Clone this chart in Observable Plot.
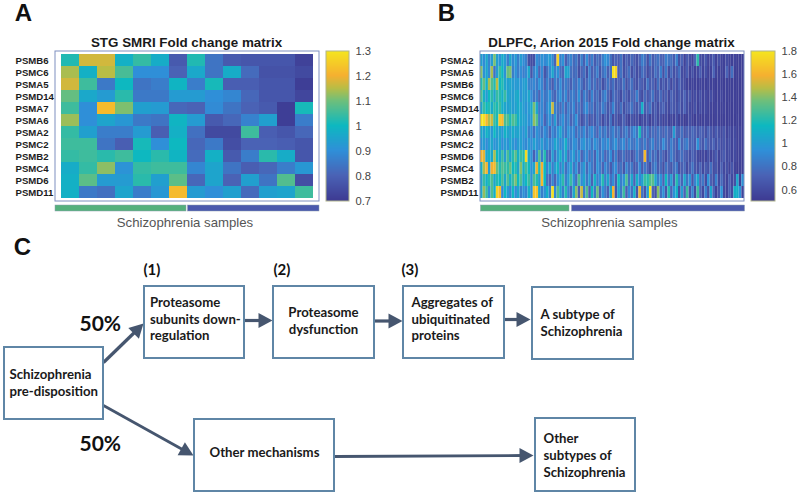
<!DOCTYPE html>
<html>
<head>
<meta charset="utf-8">
<script src="https://cdn.jsdelivr.net/npm/d3@7"></script>
<script src="https://cdn.jsdelivr.net/npm/@observablehq/plot@0.6"></script>
<style>
html,body{margin:0;padding:0;background:#fff;overflow:hidden}
#page{position:relative;width:800px;height:496px;overflow:hidden}
#page svg{position:absolute;background:transparent;max-width:none}
</style>
</head>
<body>
<div id="page"></div>
<script>
// ---------- Panel A ----------
const genesA = ["PSMB6","PSMC6","PSMA5","PSMD14","PSMA7","PSMA6","PSMA2","PSMC2","PSMB2","PSMC4","PSMD6","PSMD11"];
const valuesA = [
 [1.02,1.17,1.17,0.98,1.04,0.97,0.78,1.02,0.84,0.78,0.77,0.77,0.77,0.72],
 [1.14,0.98,1.15,1.06,0.90,0.90,0.80,0.96,0.84,0.97,0.82,0.76,0.76,0.74],
 [1.17,1.05,0.85,1.00,0.84,0.86,0.99,0.86,1.01,0.79,0.79,0.77,0.77,0.71],
 [1.09,0.96,0.93,1.03,0.85,0.85,0.93,0.93,0.90,0.88,0.81,0.77,0.77,0.73],
 [1.05,0.90,1.22,1.11,0.94,0.93,0.81,0.80,0.89,0.84,0.80,0.78,0.71,1.01],
 [1.13,0.90,0.95,0.92,0.85,0.84,0.99,0.93,0.78,0.81,0.87,0.94,0.71,0.86],
 [1.04,0.94,0.86,0.86,0.93,0.79,0.98,0.83,0.74,0.74,1.05,0.79,0.77,0.81],
 [1.05,1.05,0.84,0.79,1.01,0.90,1.00,0.81,0.85,0.75,0.80,0.80,0.79,0.77],
 [1.04,1.05,1.03,1.05,1.00,1.03,0.99,0.82,0.98,0.78,0.86,1.03,0.97,0.77],
 [0.97,1.04,1.12,0.91,1.04,1.05,1.05,0.88,0.95,0.84,0.79,0.81,0.86,0.92],
 [0.98,1.08,0.93,0.93,1.03,0.94,1.08,0.81,0.95,0.80,0.94,0.84,1.07,0.75],
 [0.98,0.85,0.83,0.95,0.86,0.92,1.22,0.93,0.90,0.94,0.82,0.94,0.95,1.05]
];
const ticksA = [0.7,0.8,0.9,1,1.1,1.2,1.3];
const titleA = "STG SMRI Fold change matrix";

// ---------- Panel B ----------
const genesB = ["PSMA2","PSMA5","PSMB6","PSMC6","PSMD14","PSMA7","PSMA6","PSMC2","PSMD6","PSMC4","PSMB2","PSMD11"];
const psma2 = [
 1.02,0.92,1.05,0.88,1.00,1.38,1.02,0.95,1.08,1.00, 0.85,1.05,0.90,0.98,0.85,1.00,0.92,0.85,0.62,0.60,
 0.62,0.92,0.85,0.95,0.90,0.95,1.00,0.90,0.72,1.72, 0.85,0.95,0.70,0.82,0.88,0.75,0.82,0.65,0.85,0.70,
 0.92,0.72,0.85,0.68,0.78,0.72,0.85,0.95,0.90,0.78, 0.65,0.72,0.68,0.80,0.60,0.72,0.65,0.75,0.68,0.62,
 0.72,0.85,0.78,0.62,0.82,0.68,0.75,0.80,0.72,0.70, 0.85,0.80,0.78,0.68,0.85,0.62,0.72,0.55,0.68,0.62,
 0.55,0.72,1.22,0.60,0.58,0.65,0.55,0.60,0.68,0.55, 0.62,0.55,0.54,0.60,0.55,0.53,0.55,0.52,0.53,0.52];
const psma5 = [
 1.40,0.95,1.05,0.90,1.45,0.80,1.00,1.25,1.15,0.95, 1.35,1.38,0.85,0.95,0.85,0.92,0.85,0.90,1.05,0.65,
 0.85,0.95,0.72,0.90,0.65,0.78,0.90,1.05,0.85,0.95, 0.78,0.72,1.05,1.02,0.78,0.75,0.78,0.62,0.72,0.78,
 0.62,0.85,0.70,0.75,0.85,0.65,0.78,0.85,0.70,0.78, 1.78,1.72,0.68,0.80,0.62,0.70,0.78,0.62,0.72,0.60,
 0.65,0.78,0.72,0.60,0.70,0.65,0.78,0.72,0.85,0.62, 0.82,0.60,0.75,0.62,0.68,0.78,0.60,0.58,0.68,0.55,
 0.62,0.55,0.58,0.68,0.55,0.62,0.54,0.55,0.72,0.55, 0.54,0.55,0.53,0.72,0.54,0.78,0.53,0.52,0.53,0.52];
const psmb6 = [
 1.20,1.35,1.10,1.45,1.30,1.20,1.48,1.15,1.20,1.05, 1.02,1.05,1.00,0.98,1.00,0.95,1.00,1.02,0.88,0.85,
 0.90,0.82,0.95,0.88,0.72,0.85,0.78,0.68,0.85,0.78, 0.92,0.75,0.85,0.78,0.70,0.82,0.75,0.88,0.78,0.68,
 0.75,0.85,0.72,0.80,0.68,0.75,0.62,0.72,0.80,0.70, 0.78,0.65,0.72,0.68,0.80,0.62,0.72,0.78,0.65,0.62,
 0.72,0.68,0.62,0.80,0.68,0.72,0.60,0.78,0.62,0.70, 0.62,0.72,0.58,0.68,0.60,0.72,0.62,0.60,0.55,0.54,
 0.55,0.54,0.53,0.55,0.54,0.53,0.55,0.53,0.54,0.52, 0.54,0.53,0.52,0.54,0.52,0.53,0.52,0.52,0.52,0.52];
const psmc6 = [
 1.30,1.10,1.00,1.15,1.22,1.05,1.25,1.20,1.10,1.25, 1.05,1.02,1.00,1.05,1.08,0.95,1.02,0.98,1.05,0.92,
 0.80,0.85,0.72,0.92,0.80,0.85,0.95,0.78,0.72,0.85, 0.95,0.78,0.90,0.72,0.82,0.85,0.75,0.95,0.68,0.85,
 0.78,0.65,0.88,0.72,0.78,0.65,0.80,0.88,0.72,0.62, 0.78,0.72,0.68,0.60,0.75,0.68,0.62,0.75,0.70,0.85,
 0.68,0.60,0.75,0.65,0.72,0.80,0.62,0.68,0.75,0.62, 0.70,0.58,0.72,0.65,0.60,0.68,0.62,0.72,0.60,0.65,
 0.55,0.60,0.55,0.62,0.55,0.58,0.54,0.60,0.55,0.53, 0.54,0.56,0.53,0.54,0.52,0.53,0.53,0.52,0.52,0.52];
const psmd14 = [
 1.05,1.25,1.15,1.20,1.08,1.22,1.18,1.25,1.10,1.05, 1.02,1.05,1.00,1.02,1.08,1.05,1.00,0.95,1.00,1.05,
 1.38,1.05,0.82,0.90,0.78,0.90,1.00,1.50,0.85,0.80, 0.75,0.88,0.72,0.85,0.78,0.90,0.72,0.82,0.70,0.85,
 0.92,0.75,0.82,0.68,0.80,0.72,0.85,0.78,0.65,0.72, 0.88,0.70,0.65,0.78,0.62,0.70,0.72,0.80,0.68,0.65,
 0.75,1.10,0.68,0.72,0.80,0.62,0.70,0.60,0.68,0.72, 0.62,0.58,0.70,0.65,0.62,0.70,0.60,0.72,0.60,0.58,
 0.55,0.62,0.54,0.60,0.55,0.58,0.54,0.55,0.53,0.55, 0.54,0.53,0.55,0.52,0.53,0.52,0.53,0.52,0.52,0.52];
const psma7 = [
 1.78,1.78,1.62,1.45,1.50,1.25,1.18,1.68,1.62,1.28, 1.30,1.18,1.30,1.25,1.10,1.05,1.02,1.00,0.95,1.00,
 1.42,1.30,0.85,0.92,0.72,0.85,0.95,0.80,1.00,0.75, 0.85,0.95,0.78,0.88,0.72,0.82,0.95,0.75,0.62,0.72,
 0.78,0.62,0.72,0.65,0.78,0.70,0.60,0.72,0.62,0.78, 0.60,0.68,0.58,0.62,0.72,0.60,0.55,0.65,0.58,0.62,
 0.55,0.62,0.58,0.65,0.55,0.60,0.68,0.58,0.62,0.55, 0.60,0.54,0.58,0.55,0.62,0.54,0.58,0.52,0.55,0.60,
 0.54,0.52,0.56,0.52,0.54,0.55,0.53,0.54,0.52,0.55, 0.53,0.52,0.53,0.52,0.53,0.52,0.52,0.53,0.52,0.52];
const psma6 = [
 1.08,1.00,1.12,1.05,0.98,1.15,1.02,1.05,0.98,1.12, 1.05,1.00,1.08,1.02,1.05,1.00,0.95,1.02,0.85,0.92,
 0.78,0.95,0.88,0.80,0.92,0.85,0.72,0.90,0.82,0.95, 1.05,0.88,0.80,0.95,0.85,0.92,0.75,0.85,0.80,0.92,
 0.75,0.85,0.92,0.80,0.72,0.88,0.78,0.85,0.72,0.80, 0.88,0.75,0.82,0.70,0.78,0.85,0.72,0.82,0.92,0.80,
 1.18,0.78,0.72,0.82,0.70,0.78,0.72,0.80,0.75,0.70, 0.78,0.72,0.68,1.00,0.72,0.70,0.78,0.65,0.72,0.68,
 0.75,0.70,0.65,0.72,0.68,0.62,0.72,0.65,0.60,0.68, 0.62,0.58,0.65,0.55,0.60,0.55,0.58,0.53,0.55,0.52];
const psmc2 = [
 0.95,1.00,0.92,1.00,1.05,0.95,0.98,1.05,0.92,1.00, 0.95,1.05,0.98,0.92,1.00,1.02,0.95,0.90,0.98,0.92,
 1.02,0.95,0.90,1.00,0.88,0.95,0.85,0.92,1.05,0.98, 0.88,0.95,1.10,0.88,0.82,0.95,0.90,0.78,0.92,0.98,
 0.85,0.92,0.80,0.95,0.88,0.78,0.92,0.85,0.95,0.80, 0.88,0.95,0.78,0.85,0.92,0.75,0.88,0.82,0.78,0.92,
 0.82,0.75,0.85,0.72,0.80,0.88,0.72,0.80,0.75,0.92, 0.78,0.72,0.85,0.75,0.68,0.92,0.72,0.80,0.85,0.70,
 0.75,0.68,0.95,0.72,0.65,0.78,0.70,0.65,0.72,0.62, 0.68,0.60,0.65,0.58,0.62,0.55,0.60,0.54,0.55,0.52];
const psmd6 = [
 1.60,1.55,1.05,1.10,1.05,1.45,1.15,1.05,1.25,1.00, 1.28,1.05,1.20,1.32,1.10,1.25,1.20,1.75,1.05,0.95,
 0.70,0.92,1.30,0.85,1.20,0.78,0.72,1.00,0.80,0.98, 1.10,0.90,1.05,0.78,0.92,1.00,0.82,0.95,0.72,0.85,
 0.90,0.75,0.85,0.70,0.95,0.78,0.88,0.72,0.80,0.92, 0.70,0.85,0.65,0.72,0.80,0.68,0.72,0.65,0.70,0.85,
 0.75,0.72,1.62,0.68,0.85,0.72,0.80,0.65,0.78,0.70, 0.62,0.72,0.85,0.75,0.65,0.72,0.78,0.70,0.68,0.62,
 0.72,0.65,0.58,0.55,0.58,0.55,0.62,0.55,0.60,0.68, 0.55,0.62,0.68,0.58,0.60,0.55,0.58,0.53,0.54,0.52];
const psmc4 = [
 1.10,1.45,1.60,1.00,1.58,1.62,1.35,1.20,1.30,1.25, 1.22,1.35,1.15,1.20,1.05,1.40,1.10,1.28,1.15,0.95,
 1.05,1.55,1.20,1.58,1.15,0.88,1.05,0.85,1.00,1.10, 0.85,1.02,0.78,0.92,1.05,0.82,0.95,0.72,0.88,1.00,
 0.75,0.92,0.82,0.70,0.95,0.85,0.72,0.90,0.80,0.68, 0.85,0.92,0.72,0.80,0.65,0.88,0.75,0.82,0.65,0.72,
 0.90,0.68,0.82,0.72,0.62,0.78,0.85,0.68,0.75,0.62, 0.80,0.72,0.65,0.78,0.82,0.62,0.70,0.75,0.60,0.68,
 0.80,0.65,0.62,0.72,0.58,0.68,0.62,0.78,0.60,0.65, 0.55,0.70,0.58,0.62,0.55,0.65,0.55,0.52,0.54,0.52];
const psmb2 = [
 1.00,1.25,1.10,1.20,1.30,1.05,1.20,1.15,1.28,1.05, 1.30,1.10,1.25,1.38,1.15,1.30,1.05,1.15,1.25,0.95,
 1.30,1.20,1.02,1.62,1.15,0.80,0.72,0.88,0.72,0.95, 1.05,1.22,0.85,1.00,1.25,0.95,0.78,1.28,0.92,1.05,
 0.82,1.00,0.72,1.10,0.85,0.95,1.20,0.85,1.05,0.78, 0.92,0.70,1.15,0.85,0.95,1.28,0.80,1.05,0.72,1.10,
 0.90,1.02,1.25,1.20,1.30,1.32,1.05,0.85,0.95,0.72, 1.15,0.82,1.00,0.70,1.20,0.88,0.72,1.05,0.80,0.95,
 0.65,0.88,1.05,0.72,0.82,0.60,0.95,0.70,0.62,0.85, 0.58,0.75,0.62,0.55,0.70,0.58,0.62,1.05,0.54,0.95];
const psmd11 = [
 1.05,1.42,1.25,0.95,1.30,1.10,1.72,1.62,0.90,1.15, 1.00,0.88,1.15,0.92,1.05,0.85,0.95,0.88,1.10,0.95,
 1.66,1.66,1.05,0.85,0.95,1.10,0.85,1.78,0.90,1.30, 1.05,0.85,1.20,0.88,0.72,1.05,1.40,0.70,1.50,0.85,
 1.30,0.70,1.15,0.82,1.35,0.72,0.95,0.82,0.70,1.05, 1.60,0.65,1.05,0.82,1.25,0.70,0.92,0.78,1.10,0.65,
 1.55,0.80,0.65,1.00,1.80,0.72,0.62,1.40,0.78,0.95, 0.65,1.20,0.72,0.95,1.10,0.62,1.00,0.72,1.25,0.65,
 0.88,0.60,1.25,0.72,0.58,0.85,0.62,1.05,0.72,0.55, 0.65,0.95,0.58,0.55,0.70,0.60,1.10,1.10,0.95,0.55];
const valuesB = [psma2,psma5,psmb6,psmc6,psmd14,psma7,psma6,psmc2,psmd6,psmc4,psmb2,psmd11];
const ticksB = [0.6,0.8,1,1.2,1.4,1.6,1.8];
const titleB = "DLPFC, Arion 2015 Fold change matrix";

// ---------- Panel C ----------
const stepNumbers = ["(1)","(2)","(3)"];
const share = ["50%","50%"];
const boxText = {
  origin:["Schizophrenia","pre-disposition"],
  sub:["Proteasome","subunits down-","regulation"],
  dys:["Proteasome","dysfunction"],
  agg:["Aggregates of","ubiquitinated","proteins"],
  type:["A subtype of","Schizophrenia"],
  other:["Other mechanisms"],
  others:["Other","subtypes of","Schizophrenia"]
};
const groupLabel = "Schizophrenia samples";
const panels = ["A","B","C"];

// ---------- Shared style ----------
const parula = ["#3d3a92","#4a62b5","#2f8fd8","#0db8c0","#6fbf7a","#b9bd45","#f5b030","#f5e61e"];
const parulaAt = [0,1/6,1/3,1/2,2/3,3/4,5/6,1];
const SANS = "'Liberation Sans',Arial,sans-serif";
const CAL = "Lato,'Noto Sans',sans-serif";
const colorScale = ([lo,hi]) => ({type:"linear",domain:parulaAt.map(t=>lo+t*(hi-lo)),range:parula,interpolate:"rgb"});

function heatmap(genes, values, domain, left, top, x0){
  const cells = genes.flatMap((g,r)=>values[r].map((v,c)=>({g,c,v})));
  const svg = Plot.plot({
    width:x0.w,height:150,margin:0,marginLeft:x0.ml,
    x:{type:"band",domain:d3.range(values[0].length),padding:0,axis:null},
    y:{type:"band",domain:genes,padding:0,label:null},
    color:colorScale(domain),
    style:{background:"transparent",overflow:"visible"},
    marks:[
      Plot.cell(cells,{x:"c",y:"g",fill:"v",imageFilter:"blur(0.6px)"}),
      Plot.axisY({anchor:"left",tickSize:0,tickPadding:0,textAnchor:"start",dx:-x0.ml,
        fontFamily:SANS,fontWeight:"bold",fontSize:9.6,fill:"#1c1c1c",label:null})
    ]
  });
  svg.style.left=left+"px"; svg.style.top=top+"px";
  return svg;
}
function colorbar(domain,ticks,left,top,w){
  const [lo,hi]=domain, step=(hi-lo)/150;
  const levels=d3.range(150).map(i=>lo+i*step);
  const svg = Plot.plot({
    width:w+32,height:150,margin:0,marginRight:32,
    x:{domain:[0,1],axis:null},
    y:{domain:[lo,hi],label:null},
    color:colorScale(domain),
    style:{background:"transparent",overflow:"visible"},
    marks:[
      Plot.rect(levels,{x1:0,x2:1,y1:d=>d,y2:d=>d+step,fill:d=>d,shapeRendering:"crispEdges"}),
      Plot.axisY({ticks,anchor:"right",tickSize:0,tickPadding:6,tickFormat:d=>String(d),
        fontFamily:SANS,fontSize:11.2,fill:"#444",label:null})
    ]
  });
  svg.style.left=left+"px"; svg.style.top=top+"px";
  return svg;
}

// ---------- Layout of the annotation layer, in page pixels ----------
const boxes=[
 {x1:4,x2:103,y1:347,y2:419},{x1:144,x2:244,y1:286,y2:358},{x1:273,x2:374,y1:286,y2:358},
 {x1:403,x2:504,y1:286,y2:358},{x1:532,x2:633,y1:287,y2:359},{x1:194,x2:334,y1:419,y2:491},
 {x1:535,x2:635,y1:418,y2:491}];
const frames=[
 {x1:55,x2:319,y1:51,y2:201,s:"#7f8fc0"},{x1:480,x2:744,y1:51,y2:201,s:"#7f8fc0"},
 {x1:326,x2:349,y1:51,y2:201,s:"#b0b48c"},{x1:751,x2:775,y1:51,y2:201,s:"#b0b48c"}];
const place=(lines,x,ys)=>lines.map((t,i)=>({t,x,y:ys[i]}));
const labelsStart=[
 ...place(boxText.origin,9,[374,391.5]),
 ...place(boxText.sub,149.5,[302,319,335.5]),
 ...place(boxText.agg,411,[302,319,335.5]),
 ...place(boxText.type,540,[314,331.5]),
 ...place(boxText.others,543,[438,455,472])
];
const labelsMiddle=[
 ...place(boxText.dys,323,[312,329]),
 ...place(boxText.other,264,[452])
];
const numbers=stepNumbers.map((t,i)=>({t,x:[143,273,401][i],y:270}));
const pct=share.map((t,i)=>({t,x:79,y:[324,444][i]}));
const shafts=[
 {x1:103,y1:362,x2:136,y2:330,w:3.2},{x1:244,y1:320,x2:262,y2:320,w:3.2},{x1:374,y1:320.5,x2:392,y2:320.5,w:3.2},
 {x1:504,y1:319,x2:520,y2:319,w:3.2},{x1:103,y1:405,x2:182,y2:449,w:2.8},{x1:334,y1:456,x2:522,y2:455,w:2.8}];
const heads=[
 {x:143,y:323,a:45},{x:272,y:320,a:90},{x:402,y:320.5,a:90},{x:530,y:319,a:90},{x:193,y:455,a:119},{x:533,y:455,a:90}];
const bars=[
 {x1:55,x2:186,y1:205,y2:211,f:"#55b07c"},{x1:187.5,x2:319,y1:205,y2:211,f:"#4a58ad"},
 {x1:480.5,x2:569,y1:205,y2:211,f:"#55b07c"},{x1:571.5,x2:744.5,y1:205,y2:211,f:"#4a58ad"}];
const triangle={draw(ctx,l){ctx.moveTo(0,-l);ctx.lineTo(7.5,0);ctx.lineTo(-7.5,0);ctx.closePath();}};
const boxFont={fontFamily:CAL,fontWeight:"bold",fontSize:13.2,fill:"#1a1a1a"};

const overlay=Plot.plot({
  width:800,height:496,margin:0,
  x:{domain:[0,800],axis:null},
  y:{domain:[496,0],axis:null},
  style:{background:"transparent"},
  marks:[
    Plot.rect(bars,{x1:"x1",x2:"x2",y1:"y1",y2:"y2",fill:"f",stroke:"#8fa0b0",strokeWidth:.5}),
    Plot.text([{t:titleA,x:186},{t:titleB,x:611}],{x:"x",y:()=>42,text:"t",fontFamily:SANS,fontWeight:"bold",fontSize:13.4,fill:"#1a1a1a"}),
    Plot.text([{x:184.5},{x:609}],{x:"x",y:()=>222,text:()=>groupLabel,fontFamily:SANS,fontSize:13.2,fill:"#555"}),
    Plot.text(panels,{x:(d,i)=>[23,446,22][i],y:(d,i)=>[13,13,247][i],text:d=>d,fontFamily:SANS,fontWeight:"bold",fontSize:24,fill:"#111"}),
    Plot.link(shafts,{x1:"x1",y1:"y1",x2:"x2",y2:"y2",stroke:"#46566f",strokeWidth:"w"}),
    Plot.vector(heads,{x:"x",y:"y",rotate:"a",length:14,anchor:"end",shape:triangle,fill:"#46566f",stroke:"none"}),
    Plot.rect(boxes,{x1:"x1",x2:"x2",y1:"y1",y2:"y2",fill:"#fff",stroke:"#5f86a6",strokeWidth:2}),
    Plot.text(labelsStart,{x:"x",y:"y",text:"t",textAnchor:"start",...boxFont}),
    Plot.text(labelsMiddle,{x:"x",y:"y",text:"t",textAnchor:"middle",...boxFont}),
    Plot.text(numbers,{x:"x",y:"y",text:"t",textAnchor:"start",fontFamily:CAL,fontWeight:"bold",fontSize:15,fill:"#111"}),
    Plot.text(pct,{x:"x",y:"y",text:"t",textAnchor:"start",fontFamily:CAL,fontWeight:"bold",fontSize:21,fill:"#111"})
  ]
});
overlay.style.left="0";overlay.style.top="0";

const frameLayer=Plot.plot({
  width:800,height:496,margin:0,
  x:{domain:[0,800],axis:null},
  y:{domain:[496,0],axis:null},
  style:{background:"transparent"},
  marks:[Plot.rect(frames,{x1:"x1",x2:"x2",y1:"y1",y2:"y2",fill:"none",stroke:"s",strokeWidth:1})]
});
frameLayer.style.left="0";frameLayer.style.top="0";
frameLayer.style.pointerEvents="none";

const page=document.getElementById("page");
page.append(
  overlay,
  heatmap(genesA,valuesA,[0.7,1.3],15,51,{w:304,ml:40}),
  colorbar([0.7,1.3],ticksA,326,51,23),
  heatmap(genesB,valuesB,[0.5,1.8],440,51,{w:304,ml:40}),
  colorbar([0.5,1.8],ticksB,751,51,24),
  frameLayer
);
</script>
</body>
</html>
